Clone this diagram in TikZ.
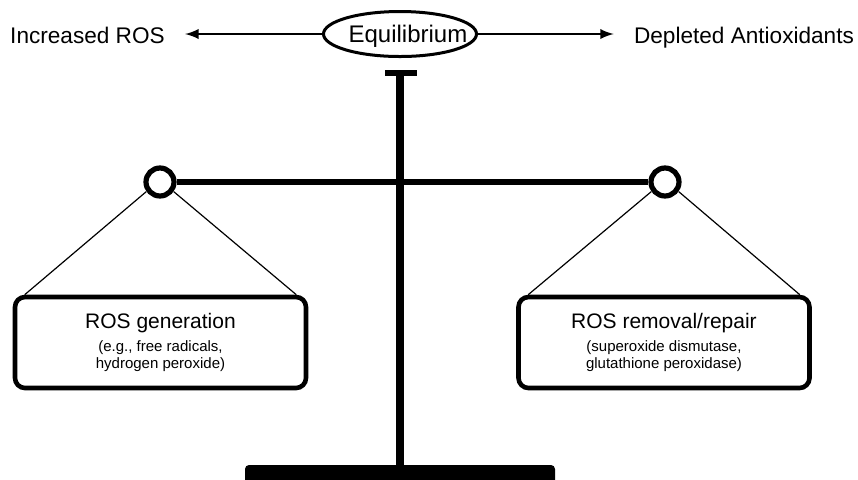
\documentclass[tikz,border=0pt]{standalone}
\usepackage{fontspec}
\setmainfont{Liberation Sans}
\usepackage{tikz}
\usetikzlibrary{arrows}
\usetikzlibrary{shapes.geometric}

\tikzset{
  pan/.style={circle, draw, fill=white, line width=2.6pt, minimum size=14pt, inner sep=0pt},
  tray/.style={draw, fill=white, rounded corners=5pt, line width=2.3pt, minimum width=145.5pt,
    minimum height=45.5pt, align=center, font=\fontsize{7.5}{8.5}\selectfont},
  side/.style={font=\fontsize{11.3}{13}\selectfont, inner xsep=10pt, anchor=base},
  string/.style={line width=0.6pt},
}

\begin{document}
\begin{tikzpicture}[x=0.5pt, y=-0.5pt]
    \useasboundingbox (0,0) rectangle (858,479);

    % stand and foot
    \coordinate (top) at (400,73);
    \coordinate (foot) at (400,466);
    \draw[line width=3.6pt] (top) -- (foot);
    \draw[line width=3pt] ([xshift=-7.5pt]top) -- ([xshift=8.5pt]top);
    \fill[rounded corners=2pt] (245,465) rectangle (555,495);

    % beam with the two pans
    \node[pan] (lpan) at (160,182) {};
    \node[pan] (rpan) at (665,182) {};
    \draw[line width=3.2pt] (lpan) -- (rpan);

    \node[tray] (lbox) at (160.5,342.5) {{\fontsize{10.5}{12}\selectfont ROS generation}\\[3pt]
      (e.g., free radicals,\\ hydrogen peroxide)};
    \node[tray] (rbox) at (664,342.5) {{\fontsize{10.5}{12}\selectfont ROS removal/repair}\\[3pt]
      (superoxide dismutase,\\ glutathione peroxidase)};

    \draw[string] (lpan.215) -- ([xshift=6pt]lbox.north west);
    \draw[string] (lpan.325) -- ([xshift=-6pt]lbox.north east);
    \draw[string] (rpan.215) -- ([xshift=6pt]rbox.north west);
    \draw[string] (rpan.325) -- ([xshift=-6pt]rbox.north east);

    % top line
    \node[ellipse, draw, line width=1.5pt, minimum width=76.5pt, minimum height=22.5pt, inner sep=0pt,
      text height=8.6pt, text depth=0pt, font=\fontsize{12}{14}\selectfont] (eq) at (400,34)
      {\makebox[30pt]{\hspace{8pt}Equilibrium}};
    \node[side] (inc) at (87.5,43) {Increased ROS};
    \node[side] (dep) at (744,43) {Depleted Antioxidants};
    \draw[-latex, line width=1.3pt] (eq) -- (eq -| inc.east);
    \draw[-latex, line width=1.3pt] (eq) -- (eq -| dep.west);
\end{tikzpicture}
\end{document}
